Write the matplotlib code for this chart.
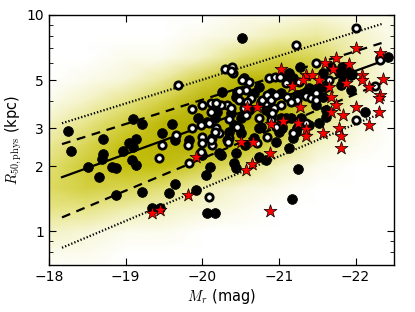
import numpy as np
import matplotlib
matplotlib.use('Agg')
import matplotlib.pyplot as plt
from matplotlib.colors import LinearSegmentedColormap
from matplotlib.ticker import FixedLocator, NullFormatter

plt.rcParams['font.family'] = ['DejaVu Sans']
plt.rcParams['mathtext.fontset'] = 'cm'

# yellow background sample, as a density table (rows: log10 R, cols: M_r)
grid_mr = [-18.0, -18.5, -19.0, -19.5, -20.0, -20.5, -21.0, -21.5, -22.0, -22.5]
grid_logr = [1.0, 0.9, 0.8, 0.7, 0.6, 0.5, 0.4, 0.3, 0.2, 0.1, 0.0, -0.1, -0.2]
grid_density = [
  [0, 0, 0, 0, 0, 1, 1, 2, 1, 1],
  [0, 0, 0, 0, 1, 2, 4, 5, 3, 1],
  [0, 0, 1, 1, 3, 7, 10, 9, 4, 1],
  [0, 1, 2, 5, 10, 15, 16, 11, 4, 1],
  [1, 3, 6, 10, 17, 19, 18, 10, 3, 0],
  [3, 6, 10, 15, 19, 19, 15, 6, 2, 0],
  [5, 9, 13, 16, 17, 14, 8, 3, 1, 0],
  [7, 11, 13, 13, 10, 7, 3, 1, 0, 0],
  [8, 10, 9, 7, 4, 2, 1, 0, 0, 0],
  [6, 6, 4, 3, 2, 1, 0, 0, 0, 0],
  [3, 2, 1, 1, 0, 0, 0, 0, 0, 0],
  [1, 1, 0, 0, 0, 0, 0, 0, 0, 0],
  [0, 0, 0, 0, 0, 0, 0, 0, 0, 0],
]

# fit lines (end points)
line_mr = [-18.17, -22.34]
mid_r = [1.78, 6.10]
hi1_r = [2.53, 7.42]
lo1_r = [1.16, 4.84]
hi2_r = [3.16, 9.08]
lo2_r = [0.84, 3.52]

black_mr = [-20.52, -18.25, -18.29, -18.70, -19.09, -19.21, -19.61, -19.14, -19.04, -19.09,
            -18.97, -18.71, -18.69, -19.08, -19.14, -18.51, -18.82, -18.88, -18.65, -18.87,
            -19.22, -19.34, -19.45, -19.56, -19.65, -19.92, -20.05, -20.00, -20.06, -20.16,
            -20.10, -20.25, -20.42, -20.44, -20.56, -20.74, -20.83, -20.35, -20.68, -20.48,
            -20.74, -19.83, -19.48, -19.65, -19.95, -20.26, -20.55, -20.45, -20.74, -20.68,
            -20.38, -20.51, -20.61, -20.83, -20.91, -20.06, -20.16, -20.90, -21.03, -20.19,
            -20.42, -20.51, -20.77, -21.00, -21.19, -21.03, -21.16, -21.29, -21.27, -21.13,
            -21.19, -21.39, -21.52, -21.61, -21.78, -21.87, -21.95, -22.32, -22.42, -22.12,
            -21.62, -20.44, -20.90, -21.09, -21.39, -21.52, -21.13, -20.44, -20.22, -21.23,
            -21.04, -21.10, -21.58, -21.68, -21.82, -21.94, -21.84, -21.36, -21.23, -21.57,
            -21.94, -21.81, -21.49, -20.96, -21.62, -21.22, -21.25, -21.17]
black_r = [7.83, 2.90, 2.35, 2.67, 3.30, 3.13, 3.13, 2.67, 2.56, 2.45,
           2.35, 2.27, 2.15, 2.13, 2.02, 1.98, 1.98, 1.96, 1.78, 1.47,
           1.52, 1.28, 1.28, 1.50, 1.65, 1.55, 1.82, 2.25, 1.21, 1.22,
           1.98, 2.25, 2.06, 1.96, 2.50, 2.20, 2.13, 2.87, 2.70, 3.00,
           3.00, 2.64, 2.84, 2.64, 3.33, 4.40, 5.11, 4.40, 4.64, 4.35,
           3.52, 3.33, 3.63, 3.63, 3.63, 3.20, 3.33, 4.35, 4.35, 3.56,
           3.09, 2.84, 3.03, 2.87, 2.70, 3.33, 3.33, 3.33, 5.74, 5.39,
           5.11, 4.59, 4.59, 4.64, 5.45, 5.56, 5.33, 6.32, 6.39, 3.56,
           3.63, 4.17, 3.44, 3.33, 3.09, 3.16, 2.42, 2.30, 2.30, 3.00,
           3.00, 5.11, 5.39, 5.74, 5.74, 5.27, 5.00, 4.40, 4.26, 4.17,
           4.49, 4.74, 3.83, 2.58, 3.37, 2.87, 1.94, 1.41]

white_mr = [-19.69, -20.30, -20.39, -20.40, -20.61, -20.52, -20.87, -20.95, -19.87, -20.00,
            -20.12, -20.12, -20.32, -20.38, -20.48, -20.57, -20.64, -20.77, -20.83, -20.94,
            -20.58, -20.35, -20.57, -20.45, -19.99, -22.00, -21.22, -21.09, -21.26, -21.49,
            -21.65, -22.00, -22.32, -22.26, -20.48, -20.78, -20.84, -20.90, -21.03, -21.10,
            -21.23, -21.36, -21.42, -21.48, -20.09, -20.18, -20.35, -20.74, -20.90, -21.35,
            -20.84, -20.13, -20.00, -20.71, -20.13, -19.99, -20.38, -20.25, -20.18, -20.55,
            -20.91, -20.96, -21.19, -20.22, -20.32, -19.48, -19.44, -19.83, -20.09, -19.81,
            -21.01, -20.96, -21.16, -21.48, -20.00, -20.12, -20.34, -20.16, -19.87, -19.66]
white_r = [4.74, 5.62, 5.74, 5.39, 4.89, 5.00, 5.11, 5.16, 3.67, 3.83,
           3.91, 3.56, 3.83, 3.71, 4.04, 4.49, 4.13, 3.95, 3.91, 3.71,
           3.95, 3.30, 3.44, 3.03, 3.09, 8.70, 7.26, 4.84, 4.89, 5.99,
           5.00, 3.26, 6.19, 4.69, 4.45, 4.04, 4.26, 4.04, 3.83, 4.17,
           4.04, 4.22, 4.13, 4.35, 3.16, 3.00, 2.70, 3.33, 3.26, 3.16,
           2.72, 2.70, 2.72, 2.56, 2.50, 2.32, 5.50, 3.83, 3.91, 3.71,
           3.52, 3.03, 2.84, 2.84, 2.64, 2.50, 2.18, 2.06, 1.44, 2.50,
           5.16, 4.26, 3.95, 4.04, 2.56, 2.64, 2.58, 2.87, 3.00, 2.78]

star_mr = [-19.34, -19.45, -19.81, -19.92, -20.51, -20.66, -20.88, -20.65, -20.57, -20.88,
           -21.06, -21.25, -21.35, -21.35, -21.58, -21.84, -21.79, -21.81, -21.81, -22.18,
           -22.31, -21.68, -22.01, -22.32, -21.03, -21.75, -21.91, -21.71, -21.60, -21.35,
           -21.43, -21.52, -21.32, -21.17, -21.65, -21.88, -22.08, -22.08, -22.18, -22.36,
           -21.68, -22.32, -22.31, -22.00, -21.74, -21.27, -20.58, -20.71, -20.90]
star_r = [1.21, 1.26, 1.48, 2.20, 2.58, 2.58, 2.30, 2.04, 1.92, 1.24,
          3.23, 3.16, 2.97, 2.75, 2.84, 3.44, 3.00, 2.75, 2.42, 3.09,
          3.56, 3.56, 7.03, 6.67, 5.62, 6.32, 5.93, 5.62, 5.99, 5.27,
          5.27, 5.00, 5.00, 4.69, 4.64, 4.84, 5.27, 5.00, 4.64, 5.06,
          4.17, 4.26, 4.13, 3.75, 3.83, 3.75, 3.75, 3.75, 3.13]

y_ticks = [1, 2, 3, 5, 10]
y_minor = [0.7, 0.8, 0.9, 4, 6, 7, 8, 9]
x_ticks = [-18, -19, -20, -21, -22]

fig = plt.figure(figsize=(4.15, 3.12), dpi=100)
ax = fig.add_axes([0.118, 0.151, 0.831, 0.801])

cmap = LinearSegmentedColormap.from_list('cloud', ['#ffffff', '#e4e27a', '#c2bd08', '#b0aa00'])
ax.pcolormesh(grid_mr, 10 ** np.array(grid_logr), np.array(grid_density),
              shading='gouraud', cmap=cmap, vmin=0, vmax=20, zorder=1)

ax.plot(line_mr, mid_r, color='k', lw=1.6, zorder=2)
ax.plot(line_mr, hi1_r, color='k', lw=1.6, ls=(0, (4, 3)), zorder=2)
ax.plot(line_mr, lo1_r, color='k', lw=1.6, ls=(0, (4, 3)), zorder=2)
ax.plot(line_mr, hi2_r, color='k', lw=1.6, ls=(0, (0.6, 0.9)), zorder=2)
ax.plot(line_mr, lo2_r, color='k', lw=1.6, ls=(0, (0.6, 0.9)), zorder=2)

ax.scatter(black_mr, black_r, s=50, c='k', edgecolors='k', lw=0.5, zorder=3)
ax.scatter(white_mr, white_r, s=28, c='w', edgecolors='k', lw=2.0, zorder=4)
ax.scatter(star_mr, star_r, s=95, marker='*', c='red', edgecolors='k', lw=0.5, zorder=5)

ax.set_yscale('log')
ax.set_xlim(-18, -22.5)
ax.set_ylim(0.7, 10)
ax.yaxis.set_major_locator(FixedLocator(y_ticks))
ax.yaxis.set_minor_locator(FixedLocator(y_minor))
ax.yaxis.set_minor_formatter(NullFormatter())
ax.set_yticklabels([str(t) for t in y_ticks])
ax.set_xticks(x_ticks)
ax.set_xticklabels(['\u2212%d' % -t for t in x_ticks])
ax.tick_params(which='both', direction='in', top=True, right=True, labelsize=10)
ax.tick_params(which='major', length=5)
ax.tick_params(which='minor', length=3)
for s in ax.spines.values():
  s.set_linewidth(1.0)

ax.set_xlabel(r'$M_r$ (mag)', fontsize=10.5, labelpad=2)
ax.set_ylabel(r'$R_{50,\rm phys}$ (kpc)', fontsize=10.5)
ax.yaxis.set_label_coords(-0.072, 0.5)

fig.savefig('out.png', dpi=100)
